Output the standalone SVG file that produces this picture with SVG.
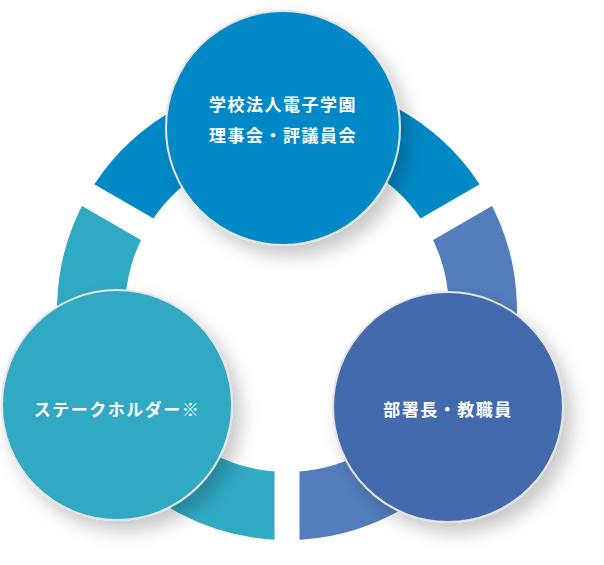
<svg xmlns="http://www.w3.org/2000/svg" width="604" height="565" viewBox="0 0 604 565">
<defs>
<filter id="sh" x="-30%" y="-30%" width="170%" height="170%"><feDropShadow dx="8" dy="10" stdDeviation="9" flood-color="#000" flood-opacity="0.22"/></filter>
<style>
.seg{fill:none;stroke-width:68}
.node{stroke:#e4e4e4;stroke-width:2;filter:url(#sh)}
.t{font-family:"Noto Sans CJK JP",sans-serif;font-weight:bold;font-size:17px;fill:#fff;text-anchor:middle;letter-spacing:1.5px}
</style>
</defs>
<rect width="604" height="565" fill="#fff"/>
<g id="connectors">
<path class="seg" stroke="#0189C6" d="M117.3,212 A196,196 0 0 1 456.7,212"/>
<path class="seg" stroke="#537DBC" d="M456.7,212 A196,196 0 0 1 287,506"/>
<path class="seg" stroke="#30A9C3" d="M287,506 A196,196 0 0 1 117.3,212"/>
<g stroke="#fff" stroke-width="25">
<line x1="287" y1="310" x2="287" y2="570"/>
<line x1="287" y1="310" x2="62" y2="180"/>
<line x1="287" y1="310" x2="512" y2="180"/>
</g>
</g>
<g id="top">
<circle class="node" cx="283" cy="128" r="117" fill="#0189C6"/>
<text class="t" x="283" y="111">学校法人電子学園</text>
<text class="t" x="283" y="142">理事会・評議員会</text>
</g>
<g id="left">
<circle class="node" cx="117" cy="405" r="115" fill="#30A9C3"/>
<text class="t" x="117" y="416">ステークホルダー※</text>
</g>
<g id="right">
<circle class="node" cx="448" cy="407" r="115" fill="#436AAC"/>
<text class="t" x="448" y="416">部署長・教職員</text>
</g>
</svg>
